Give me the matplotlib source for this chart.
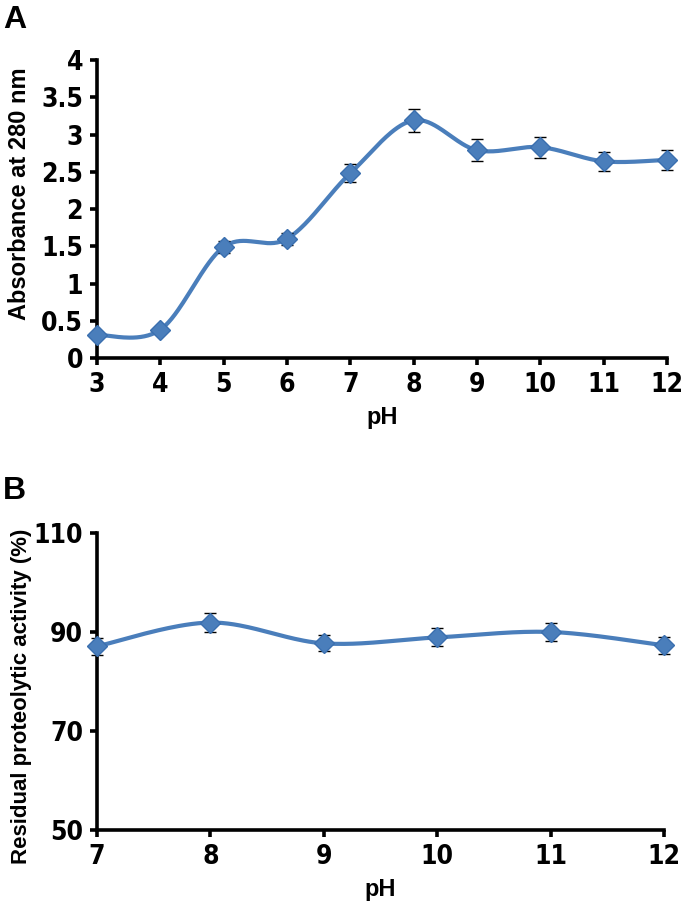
import matplotlib.pyplot as plt
from matplotlib import font_manager
import numpy as np

# panel A: absorbance vs pH
ph_a = [3, 4, 5, 6, 7, 8, 9, 10, 11, 12]
abs_a = [0.31, 0.38, 1.49, 1.60, 2.48, 3.19, 2.79, 2.83, 2.64, 2.66]
err_a = [0.03, 0.03, 0.08, 0.08, 0.12, 0.155, 0.145, 0.14, 0.13, 0.135]

# panel B: residual activity vs pH
ph_b = [7, 8, 9, 10, 11, 12]
act_b = [87.1, 91.9, 87.7, 88.9, 90.0, 87.3]
err_b = [1.7, 1.85, 1.6, 1.8, 1.8, 1.7]

blue = '#4A7EBB'
names = {f.name for f in font_manager.fontManager.ttflist}
if 'Liberation Sans Narrow' in names:
    tick_font = dict(family=['Liberation Sans Narrow', 'DejaVu Sans'], weight='bold', size=19)
else:
    tick_font = dict(family=['DejaVu Sans'], stretch='condensed', weight='bold', size=19)
label_font = dict(family=['Liberation Sans', 'DejaVu Sans'], weight='bold', size=17)


def smooth(x, y, n=40):
    # Excel-like smoothed line: cubic bezier with 1/6 tension
    x = np.asarray(x, float)
    y = np.asarray(y, float)
    px = np.concatenate([[x[0]], x, [x[-1]]])
    py = np.concatenate([[y[0]], y, [y[-1]]])
    t = np.linspace(0, 1, n)[:, None]
    xs, ys = [], []
    for i in range(1, len(px) - 2):
        p0 = np.array([px[i], py[i]])
        p3 = np.array([px[i + 1], py[i + 1]])
        c1 = p0 + (np.array([px[i + 1], py[i + 1]]) - np.array([px[i - 1], py[i - 1]])) / 6
        c2 = p3 - (np.array([px[i + 2], py[i + 2]]) - np.array([px[i], py[i]])) / 6
        pts = (1 - t) ** 3 * p0 + 3 * (1 - t) ** 2 * t * c1 + 3 * (1 - t) * t ** 2 * c2 + t ** 3 * p3
        xs.append(pts[:, 0])
        ys.append(pts[:, 1])
    return np.concatenate(xs), np.concatenate(ys)


def style(ax):
    for s in ['top', 'right']:
        ax.spines[s].set_visible(False)
    for s in ['left', 'bottom']:
        ax.spines[s].set_linewidth(2.6)
    ax.tick_params(direction='out', length=5, width=2.6, pad=5)
    for lab in ax.get_xticklabels() + ax.get_yticklabels():
        lab.set(**tick_font)


def draw(ax, x, y, e):
    sx, sy = smooth(x, y)
    ax.plot(sx, sy, color=blue, lw=3.0, clip_on=False, zorder=2)
    ax.errorbar(x, y, yerr=e, fmt='none', ecolor='black', elinewidth=1.0,
                capsize=4, capthick=1.0, clip_on=False, zorder=3)
    ax.plot(x, y, 'D', color=blue, markersize=10, markeredgecolor='#3A6FAF',
            markeredgewidth=1, clip_on=False, zorder=4)


fig = plt.figure(figsize=(6.85, 9.05), dpi=100)

ax1 = fig.add_axes([0.1416, 0.6044, 0.832, 0.3293])
draw(ax1, ph_a, abs_a, err_a)
ax1.set_xlim(3, 12)
ax1.set_ylim(0, 4)
ax1.set_xticks(ph_a)
ax1.set_yticks([0, 0.5, 1, 1.5, 2, 2.5, 3, 3.5, 4])
ax1.set_yticklabels(['0', '0.5', '1', '1.5', '2', '2.5', '3', '3.5', '4'])
style(ax1)
ax1.set_xlabel('pH', labelpad=6, **label_font)
ax1.set_ylabel('Absorbance at 280 nm', **label_font)
ax1.yaxis.set_label_coords(-0.115, 0.55)

ax2 = fig.add_axes([0.1416, 0.0829, 0.8277, 0.3282])
draw(ax2, ph_b, act_b, err_b)
ax2.set_xlim(7, 12)
ax2.set_ylim(50, 110)
ax2.set_xticks(ph_b)
ax2.set_yticks([50, 70, 90, 110])
style(ax2)
ax2.set_xlabel('pH', labelpad=6, **label_font)
ax2.set_ylabel('Residual proteolytic activity (%)', family=['Liberation Sans', 'DejaVu Sans'],
               weight='bold', size=16)
ax2.yaxis.set_label_coords(-0.115, 0.45)

fig.text(0.004, 0.995, 'A', ha='left', va='top', fontsize=23, fontweight='bold',
         family=['Liberation Sans', 'DejaVu Sans'])
fig.text(0.004, 0.474, 'B', ha='left', va='top', fontsize=23, fontweight='bold',
         family=['Liberation Sans', 'DejaVu Sans'])

fig.savefig('out.png', dpi=100)
